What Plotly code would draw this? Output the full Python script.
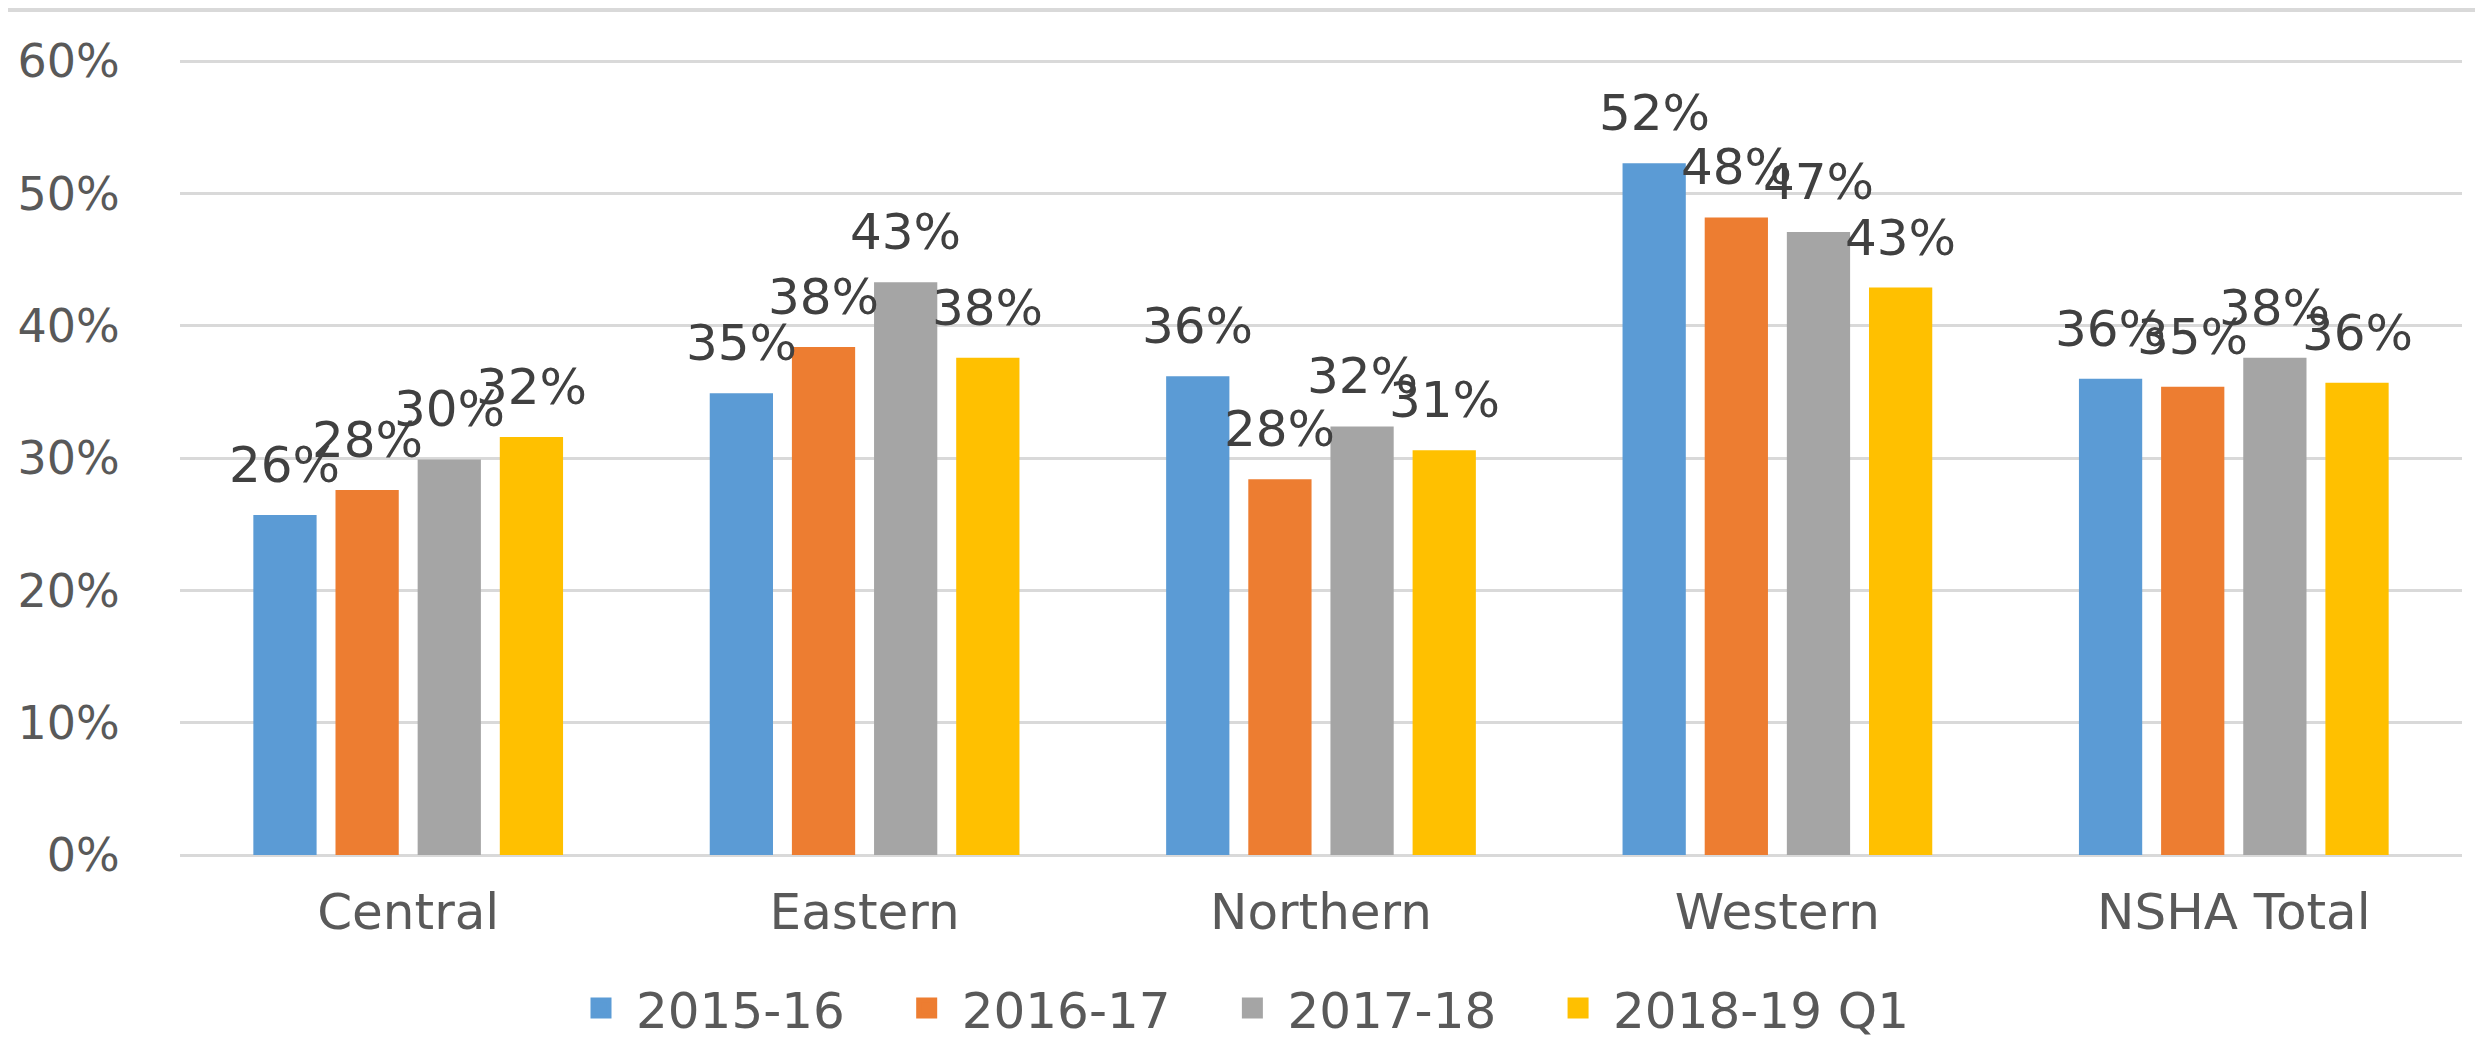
import plotly.graph_objects as go

categories = ["Central", "Eastern", "Northern", "Western", "NSHA Total"]
series_names = ["2015-16", "2016-17", "2017-18", "2018-19 Q1"]
v_2015_16 = [0.257, 0.349, 0.362, 0.523, 0.360]
v_2016_17 = [0.276, 0.384, 0.284, 0.482, 0.354]
v_2017_18 = [0.299, 0.433, 0.324, 0.471, 0.376]
v_2018_19_q1 = [0.316, 0.376, 0.306, 0.429, 0.357]
series_values = [v_2015_16, v_2016_17, v_2017_18, v_2018_19_q1]
colors = ["#5B9BD5", "#ED7D31", "#A5A5A5", "#FFC000"]
y_ticks = [0, 0.1, 0.2, 0.3, 0.4, 0.5, 0.6]
y_tick_labels = ["0%", "10%", "20%", "30%", "40%", "50%", "60%"]

# page has an 8px body margin: figure coords = page coords - 8
W, H = 2475, 1031
ML, MR, MT, MB = 172, 21, 52, 184
PW, PH = W - ML - MR, H - MT - MB
BARGAP = 0.28
FONT = "DejaVu Sans"

fig = go.Figure()
for name, vals, col in zip(series_names, series_values, colors):
    fig.add_trace(go.Bar(x=categories, y=vals, name=name, showlegend=False,
                         marker=dict(color=col, line=dict(width=0))))
# legend entries with larger square swatches (padded names for spacing)
pad = "\u00a0\u00a0\u2009"
for k, (name, col) in enumerate(zip(series_names, colors)):
    label = name + (pad if k < len(series_names) - 1 else "")
    fig.add_trace(go.Scatter(x=[None], y=[None], mode="markers", name=label,
                             marker=dict(symbol="square", size=28, color=col,
                                         line=dict(color=col, width=6))))

cat_px = PW / len(categories)
slot_px = cat_px * (1 - BARGAP) / len(series_names)
annotations = []
for i, vals in enumerate(series_values):
    for c, v in zip(categories, vals):
        annotations.append(dict(
            x=c, y=v, xref="x", yref="y", text=f"{round(v*100):.0f}%",
            showarrow=False, yanchor="bottom", xanchor="center",
            xshift=(i - 1.5) * slot_px, yshift=19,
            font=dict(family=FONT, size=50, color="#404040"),
        ))

fig.update_layout(
    width=W, height=H,
    margin=dict(l=ML, r=MR, t=MT, b=MB, autoexpand=False),
    paper_bgcolor="white", plot_bgcolor="white",
    barmode="group", bargap=BARGAP, bargroupgap=0.23,
    annotations=annotations,
    font=dict(family=FONT, color="#595959"),
    legend=dict(orientation="h", x=(558 - ML) / PW, xanchor="left", y=(847 - 1000) / PH, yanchor="middle",
                itemwidth=60,
                font=dict(family=FONT, size=50, color="#595959"), traceorder="normal"),
    xaxis=dict(showgrid=False, showline=False, ticks="outside", ticklen=13, tickcolor="rgba(0,0,0,0)",
               tickfont=dict(family=FONT, size=50, color="#595959")),
    yaxis=dict(range=[0, 0.601], tickvals=y_ticks, ticktext=y_tick_labels,
               showgrid=True, gridcolor="#D9D9D9", gridwidth=3, zeroline=True, zerolinecolor="#D9D9D9", zerolinewidth=3,
               ticks="outside", ticklen=50, tickcolor="rgba(0,0,0,0)",
               tickfont=dict(family=FONT, size=46, color="#595959")),
    shapes=[dict(type="line", xref="paper", yref="paper", x0=-1, x1=2, y0=1 + (MT - 2) / PH,
                 y1=1 + (MT - 2) / PH, line=dict(color="#D9D9D9", width=4))],
)
fig.write_html("out.html")
